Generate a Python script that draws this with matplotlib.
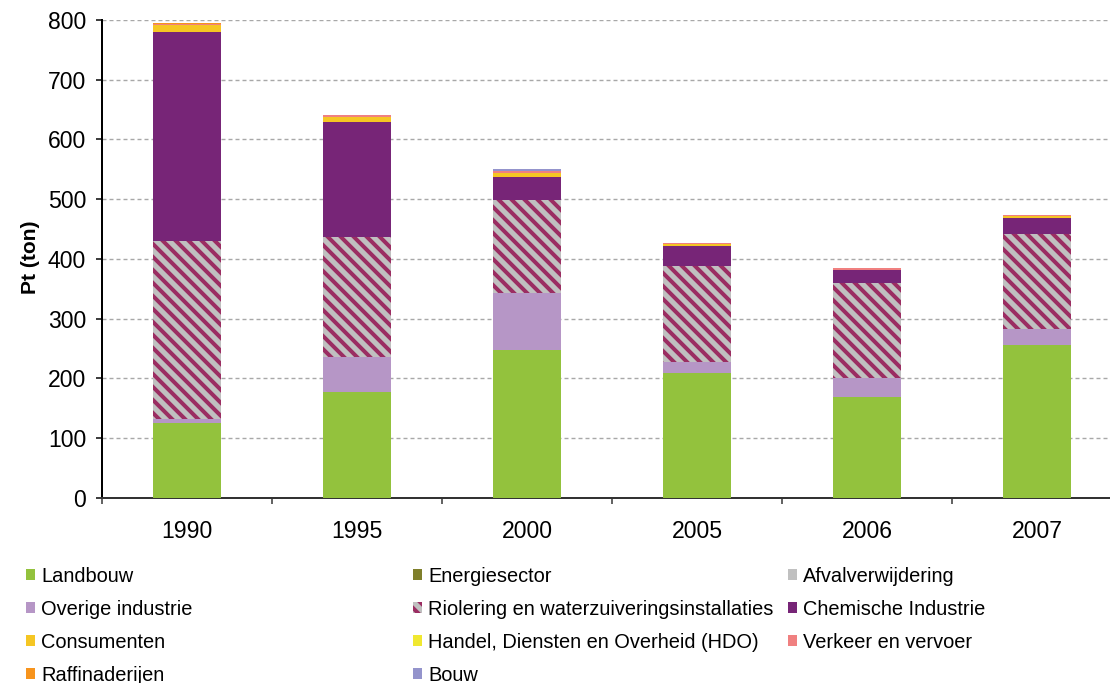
import matplotlib.pyplot as plt
import numpy as np

DPI = 78


def pt(px):
    # pixel size -> points at the figure dpi
    return px * 72 / DPI


years = ["1990", "1995", "2000", "2005", "2006", "2007"]

landbouw = [125, 177, 247, 208, 168, 255]
energiesector = [0, 0, 0, 0, 0, 0]
afvalverwijdering = [0, 0, 0, 0, 0, 0]
overige_industrie = [7, 58, 96, 19, 32, 28]
riolering = [298, 201, 155, 161, 159, 158]
chemische_industrie = [350, 193, 39, 34, 22, 28]
consumenten = [12, 9, 7, 3, 0, 2]
hdo = [0, 0, 0, 0, 0, 0]
verkeer = [2, 3, 3, 2, 4, 2]
raffinaderijen = [0.5, 0.5, 0, 0, 0, 1]
bouw = [0, 0, 3, 0, 0, 0]

series = [
    ("Landbouw", landbouw, "#93C23D", None),
    ("Energiesector", energiesector, "#7F7F2B", None),
    ("Afvalverwijdering", afvalverwijdering, "#C0C0C0", None),
    ("Overige industrie", overige_industrie, "#B696C6", None),
    ("Riolering en waterzuiveringsinstallaties", riolering, "#C0C0C0", "#9B2D62"),
    ("Chemische Industrie", chemische_industrie, "#772577", None),
    ("Consumenten", consumenten, "#F5C623", None),
    ("Handel, Diensten en Overheid (HDO)", hdo, "#F0E830", None),
    ("Verkeer en vervoer", verkeer, "#F08080", None),
    ("Raffinaderijen", raffinaderijen, "#F7941D", None),
    ("Bouw", bouw, "#9494CC", None),
]

plt.rcParams['font.family'] = ['Liberation Sans', 'DejaVu Sans']
plt.rcParams['hatch.linewidth'] = pt(4)
plt.rcParams['lines.scale_dashes'] = False

fig = plt.figure(figsize=(1110 / DPI, 683 / DPI), dpi=DPI)
ax = fig.add_axes([102 / 1110, (683 - 497.7) / 683, 1020 / 1110, 477.7 / 683])

x = np.arange(len(years))
bottom = np.zeros(len(years))
handles = []
for name, vals, color, stripe in series:
    vals = np.array(vals, dtype=float)
    if stripe:
        b = ax.bar(x, vals, 0.4, bottom=bottom, color=color, edgecolor=stripe,
                   linewidth=0, hatch="\\\\", zorder=3, label=name)
    else:
        b = ax.bar(x, vals, 0.4, bottom=bottom, color=color, linewidth=0,
                   zorder=3, label=name)
    bottom += vals
    handles.append(b)

ax.set_xlim(-0.5, 5.5)
ax.set_ylim(0, 800)
ax.set_yticks(np.arange(0, 801, 100))
ax.set_xticks(np.arange(-0.5, 6.0, 1.0))
ax.set_xticklabels([])
ax.set_xticks(x, minor=True)
ax.set_xticklabels(years, minor=True)

ax.tick_params(axis="y", length=pt(6), width=pt(1.5), pad=pt(10), labelsize=pt(23))
ax.tick_params(axis="x", which="major", length=pt(6), width=pt(1.5), color="#333333")
ax.tick_params(axis="x", which="minor", length=0, pad=pt(22), labelsize=pt(23))

ax.yaxis.grid(True, color="#A8A8A8", linewidth=pt(1.4), linestyle=(0, (pt(4), pt(3))))
ax.set_axisbelow(True)

for side in ["top", "right"]:
    ax.spines[side].set_visible(False)
ax.spines["left"].set_linewidth(pt(2))
ax.spines["left"].set_color("black")
ax.spines["bottom"].set_linewidth(pt(2))
ax.spines["bottom"].set_color("#333333")

fig.text(30 / 1110, 1 - 257 / 683, "Pt (ton)", rotation=90, ha="center",
         va="center", fontsize=pt(21), fontweight="bold")

# legend in three columns, filled row by row like the original
columns = [[0, 3, 6, 9], [1, 4, 7, 10], [2, 5, 8]]
col_x = [26, 413, 788]
for idx, cx in zip(columns, col_x):
    leg = fig.legend([handles[i] for i in idx], [series[i][0] for i in idx],
                     loc="upper left", bbox_to_anchor=(cx / 1110, 1 - 566.5 / 683),
                     frameon=False, fontsize=pt(20), handlelength=0.45,
                     handleheight=0.45, handletextpad=0.3, labelspacing=0.7,
                     borderpad=0, borderaxespad=0)

fig.savefig("out.png", dpi=DPI)
